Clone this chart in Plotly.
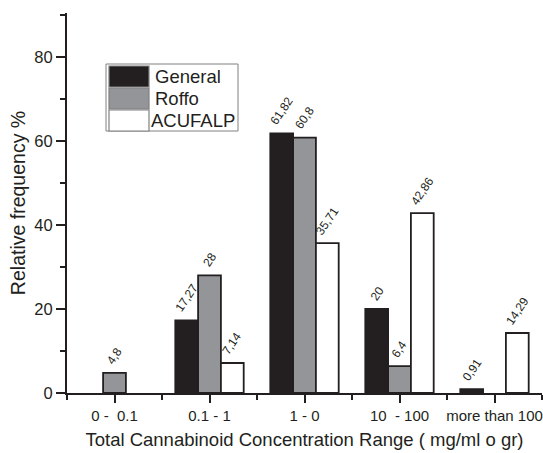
import plotly.graph_objects as go

categories = ["0 -  0.1", "0.1 - 1", "1 - 0", "10  - 100", "more than 100"]
series_names = ["General", "Roffo", "ACUFALP"]
general = [0, 17.27, 61.82, 20, 0.91]
roffo = [4.8, 28, 60.8, 6.4, 0]
acufalp = [0, 7.14, 35.71, 42.86, 14.29]
y_ticks = [0, 20, 40, 60, 80]

colors = ["#231f20", "#939598", "#ffffff"]
ink = "#231f20"
FONT = "Liberation Sans, Arial, sans-serif"

W, H = 543, 453
L, R, T, B = 67, 1, 13, 60
BARGAP = 0.28
x_idx = list(range(len(categories)))
n_series = len(series_names)
bar_w = (1 - BARGAP) / n_series


def fmt(v):
    return ("%g" % v).replace(".", ",")


fig = go.Figure()
annotations = []
for s, (name, vals, col) in enumerate(zip(series_names, [general, roffo, acufalp], colors)):
    fig.add_trace(go.Bar(
        x=x_idx, y=[v if v else None for v in vals], name=name,
        marker=dict(color=col, line=dict(color=ink, width=1.8)),
        showlegend=False,
    ))
    off = (s - (n_series - 1) / 2) * bar_w
    for xi, v in zip(x_idx, vals):
        if v:
            annotations.append(dict(
                x=xi + off, y=v, xref="x", yref="y", text=fmt(v),
                showarrow=False, textangle=-56, xanchor="center", yanchor="bottom",
                yshift=3, font=dict(family=FONT, size=12, color=ink)))

fig.update_layout(
    width=W, height=H,
    margin=dict(l=L, r=R, t=T, b=B),
    barmode="group", bargap=BARGAP, bargroupgap=0,
    plot_bgcolor="white", paper_bgcolor="white",
    font=dict(family=FONT, color=ink),
)

fig.update_xaxes(
    range=[-0.5, len(categories) - 0.5],
    tickmode="array", tickvals=x_idx, ticktext=categories,
    ticks="outside", ticklen=8, tickwidth=1.5, tickcolor=ink,
    minor=dict(tickmode="linear", tick0=-0.5, dtick=1, ticks="outside",
               ticklen=5, tickwidth=1.5, tickcolor=ink),
    showline=True, linecolor=ink, linewidth=2,
    showgrid=False, zeroline=False,
    tickfont=dict(size=15, color=ink),
    title=dict(text="Total Cannabinoid Concentration Range ( mg/ml o gr)",
               font=dict(size=18.5, color=ink), standoff=10),
)
fig.update_yaxes(
    range=[0, 90.5],
    tickmode="array", tickvals=y_ticks,
    ticks="outside", ticklen=9, tickwidth=1.5, tickcolor=ink,
    minor=dict(tickmode="linear", tick0=10, dtick=20, ticks="outside",
               ticklen=5, tickwidth=1.5, tickcolor=ink),
    showline=True, linecolor=ink, linewidth=2,
    showgrid=False, zeroline=False,
    tickfont=dict(size=16.5, color=ink),
    title=dict(text="Relative frequency %", font=dict(size=19.5, color=ink), standoff=4),
)

# Manual legend (large swatches) in paper coordinates
pw, ph = W - L - R, H - T - B


def px(x):
    return (x - L) / pw


def py(y):
    return (H - B - y) / ph


shapes = [dict(type="rect", xref="paper", yref="paper",
               x0=px(106), x1=px(238), y0=py(131), y1=py(64),
               line=dict(color="#808080", width=1), fillcolor="white", layer="above")]
row_top = [66, 88, 110]
for i, (name, col) in enumerate(zip(series_names, colors)):
    y0, y1 = row_top[i], row_top[i] + 21
    shapes.append(dict(type="rect", xref="paper", yref="paper",
                       x0=px(109), x1=px(149), y0=py(y1), y1=py(y0),
                       line=dict(color="#808080", width=1.2), fillcolor=col, layer="above"))
    annotations.append(dict(xref="paper", yref="paper", x=px(149 if i == 2 else 153),
                            y=py((y0 + y1) / 2), text=name, showarrow=False,
                            xanchor="left", yanchor="middle",
                            font=dict(family=FONT, size=18.5, color=ink)))
fig.update_layout(shapes=shapes, annotations=annotations)

fig.write_html("out.html")
